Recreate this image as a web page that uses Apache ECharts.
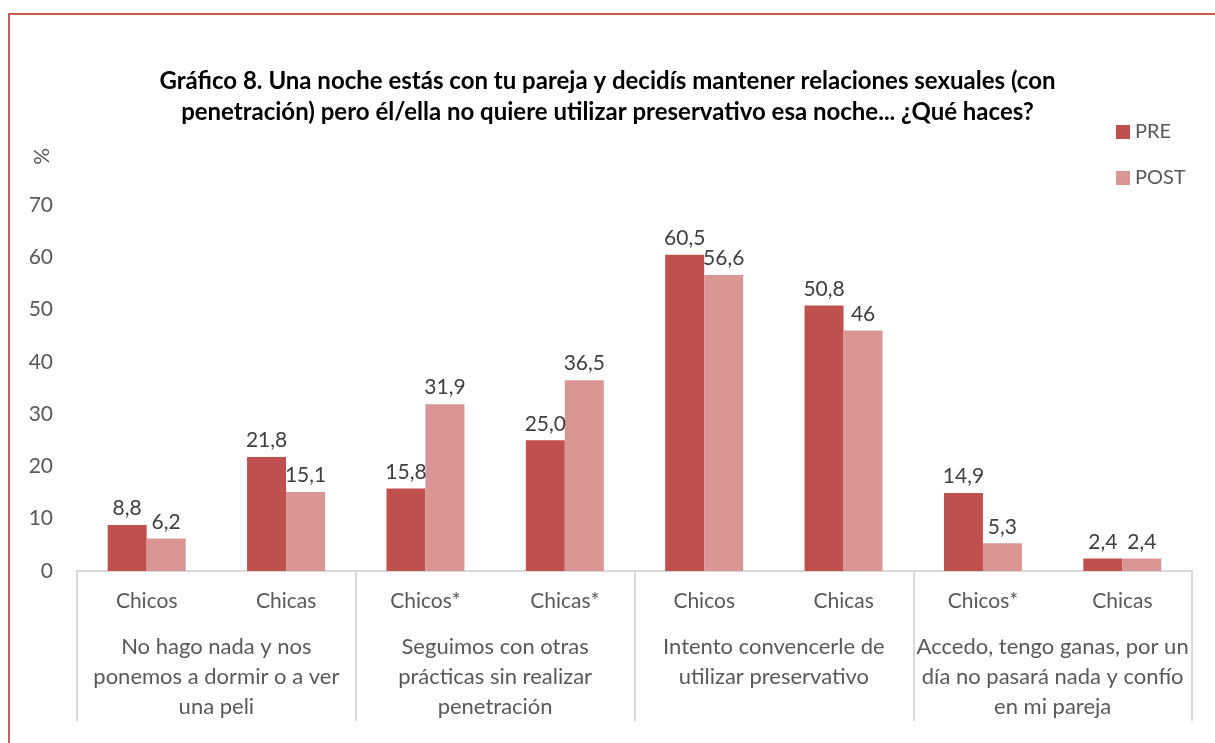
<!DOCTYPE html>
<html>
<head>
<meta charset="utf-8">
<script src="https://cdn.jsdelivr.net/npm/echarts@6/dist/echarts.min.js"></script>
<style>
  html, body { margin: 0; padding: 0; background: #fff; }
  .frame {
    position: absolute; left: 8px; top: 13px; width: 1300px; height: 800px;
    border-top: 2px solid #D0595A; border-left: 2px solid #D0595A;
  }
  #chart { position: absolute; left: 0; top: 0; width: 1215px; height: 743px; }
</style>
</head>
<body>
<div class="frame"></div>
<div id="chart"></div>
<script>
const subCategories = ['Chicos', 'Chicas', 'Chicos*', 'Chicas*', 'Chicos', 'Chicas', 'Chicos*', 'Chicas']
const groups = [
  'No hago nada y nos\nponemos a dormir o a ver\nuna peli',
  'Seguimos con otras\nprácticas sin realizar\npenetración',
  'Intento convencerle de\nutilizar preservativo',
  'Accedo, tengo ganas, por un\ndía no pasará nada y confío\nen mi pareja'
]
const preValues = [8.8, 21.8, 15.8, 25.0, 60.5, 50.8, 14.9, 2.4]
const postValues = [6.2, 15.1, 31.9, 36.5, 56.6, 46, 5.3, 2.4]
const preLabels = ['8,8', '21,8', '15,8', '25,0', '60,5', '50,8', '14,9', '2,4']
const postLabels = ['6,2', '15,1', '31,9', '36,5', '56,6', '46', '5,3', '2,4']
const yTicks = [0, 10, 20, 30, 40, 50, 60, 70]

const FONT = 'Lato, "Open Sans", sans-serif'
const chart = echarts.init(document.getElementById('chart'))

const option = {
  animation: false,
  textStyle: { fontFamily: FONT },
  title: {
    text: 'Gráfico 8. Una noche estás con tu pareja y decidís mantener relaciones sexuales (con\npenetración) pero él/ella no quiere utilizar preservativo esa noche... ¿Qué haces?',
    left: 'center',
    top: 61,
    textStyle: { fontFamily: FONT, fontSize: 24, fontWeight: 'bold', color: '#000', lineHeight: 31, align: 'center' }
  },
  legend: {
    orient: 'vertical',
    left: 1111,
    top: 117,
    itemGap: 26,
    itemWidth: 14,
    itemHeight: 14,
    icon: 'rect',
    textStyle: { fontFamily: FONT, fontSize: 20, color: '#595959' },
    data: ['PRE', 'POST']
  },
  graphic: [{
    type: 'text',
    left: 32,
    top: 148,
    rotation: Math.PI / 2,
    style: { text: '%', font: '21px ' + FONT, fill: '#595959' }
  }],
  grid: { left: 77, right: 23, top: 205, bottom: 172 },
  xAxis: [{
    type: 'category',
    data: subCategories,
    position: 'bottom',
    axisLine: { show: true, lineStyle: { color: '#D9D9D9', width: 2 } },
    axisTick: { show: false },
    axisLabel: { fontFamily: FONT, fontSize: 21, color: '#595959', margin: 20, interval: 0 }
  }, {
    type: 'category',
    data: groups,
    position: 'bottom',
    axisLine: { show: false },
    axisTick: { show: true, length: 150, lineStyle: { color: '#D9D9D9', width: 2 } },
    axisLabel: { fontFamily: FONT, fontSize: 22, color: '#595959', margin: 61, lineHeight: 30, interval: 0, verticalAlign: 'top' }
  }],
  yAxis: {
    type: 'value',
    min: 0,
    max: 70,
    interval: 10,
    axisLine: { show: false },
    axisTick: { show: false },
    splitLine: { show: false },
    axisLabel: {
      fontFamily: FONT, fontSize: 21, color: '#595959', margin: 24,
      formatter: v => yTicks.includes(v) ? String(v) : ''
    }
  },
  series: [{
    name: 'PRE',
    type: 'bar',
    data: preValues,
    barWidth: 39,
    barGap: '0%',
    itemStyle: { color: '#C0504D' },
    label: {
      show: true, position: 'top', distance: 6,
      fontFamily: FONT, fontSize: 21, color: '#404040',
      formatter: p => preLabels[p.dataIndex]
    }
  }, {
    name: 'POST',
    type: 'bar',
    data: postValues,
    barWidth: 39,
    barGap: '0%',
    itemStyle: { color: '#D99694' },
    label: {
      show: true, position: 'top', distance: 6,
      fontFamily: FONT, fontSize: 21, color: '#404040',
      formatter: p => postLabels[p.dataIndex]
    }
  }]
}

chart.setOption(option)
</script>
</body>
</html>
